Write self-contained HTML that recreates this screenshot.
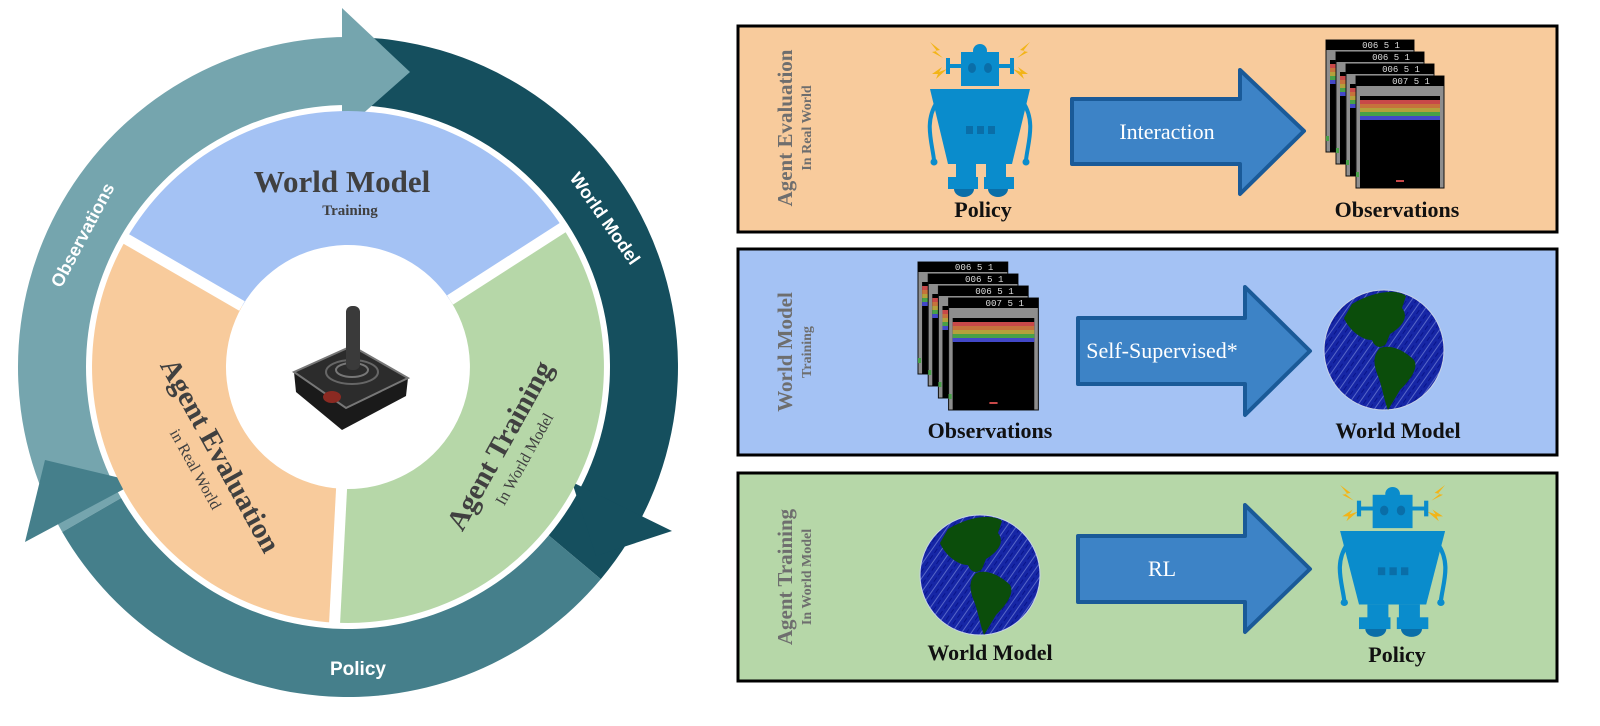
<!DOCTYPE html>
<html><head><meta charset="utf-8"><style>
html,body{margin:0;padding:0;background:#fff;}
svg{display:block;}
.serif{font-family:"Liberation Serif",serif;}
.sans{font-family:"Liberation Sans",sans-serif;}
</style></head><body>
<svg width="1600" height="726" viewBox="0 0 1600 726" xmlns="http://www.w3.org/2000/svg">
<defs>
<pattern id="scrib" width="8" height="8" patternUnits="userSpaceOnUse" patternTransform="rotate(-55)">
<rect width="8" height="8" fill="#1626a6"/>
<line x1="0" y1="2" x2="8" y2="2" stroke="#8a98e0" stroke-width="0.8" opacity="0.7"/>
<line x1="0" y1="6" x2="5" y2="6" stroke="#0a158a" stroke-width="1"/>
</pattern>
<g id="robot">
<path d="M2,0 l10,8 -5,1 8,7 -11,-6 5,-1z M102,0 l-10,8 5,1 -8,7 11,-6 -5,-1z M4,32 l10,-7 -3,5 8,-3 -11,10 2,-5z M100,32 l-10,-7 3,5 -8,-3 11,10 -2,-5z" fill="#f2b418"/>
<circle cx="52" cy="9" r="7" fill="#0a8ccc"/>
<rect x="33" y="10" width="38" height="34" fill="#0a8ccc"/>
<rect x="20" y="22" width="14" height="4" fill="#0a8ccc"/><rect x="18" y="16" width="4" height="16" fill="#0a8ccc"/>
<rect x="70" y="22" width="14" height="4" fill="#0a8ccc"/><rect x="82" y="16" width="4" height="16" fill="#0a8ccc"/>
<ellipse cx="44" cy="26" rx="4" ry="5" fill="#0a6ea8"/><ellipse cx="60" cy="26" rx="4" ry="5" fill="#0a6ea8"/>
<path d="M2,47 L102,47 L84,122 L20,122 Z" fill="#0a8ccc"/>
<path d="M9,60 C-4,80 4,100 6,118 M95,60 C108,80 100,100 98,118" stroke="#0a8ccc" stroke-width="4" fill="none"/>
<circle cx="6" cy="120" r="3.5" fill="#0a8ccc"/><circle cx="98" cy="120" r="3.5" fill="#0a8ccc"/>
<rect x="38" y="84" width="7" height="8" fill="#0a6ea8"/><rect x="49" y="84" width="7" height="8" fill="#0a6ea8"/><rect x="60" y="84" width="7" height="8" fill="#0a6ea8"/>
<rect x="28" y="122" width="20" height="22" fill="#0a8ccc"/><rect x="58" y="122" width="20" height="22" fill="#0a8ccc"/>
<rect x="20" y="135" width="30" height="12" fill="#0a8ccc"/><rect x="56" y="135" width="30" height="12" fill="#0a8ccc"/>
<path d="M26,147 h20 a10,8 0 0 1 -20,0z M60,147 h20 a10,8 0 0 1 -20,0z" fill="#0a6ea8"/>
</g>
<g id="frame">
<rect x="0" y="0" width="88" height="112" fill="#8e8e8e" stroke="#111" stroke-width="1"/>
<rect x="0" y="0" width="88" height="10" fill="#000"/>
<rect x="4" y="20" width="80" height="92" fill="#000"/>
<rect x="4" y="24" width="80" height="4" fill="#c84848"/>
<rect x="4" y="28" width="80" height="4" fill="#c6723c"/>
<rect x="4" y="32" width="80" height="4" fill="#b4a03c"/>
<rect x="4" y="36" width="80" height="4" fill="#48a048"/>
<rect x="4" y="40" width="80" height="4" fill="#4248c8"/>
<rect x="40" y="104" width="8" height="2" fill="#c84848"/>
<rect x="0" y="96" width="3" height="5" fill="#48a048"/>
</g>
<g id="stack">
<use href="#frame" x="0" y="0"/><text x="55" y="8" font-size="9" fill="#ddd" font-family="Liberation Mono,monospace" text-anchor="middle">006 5 1</text>
<use href="#frame" x="10" y="12"/><text x="65" y="20" font-size="9" fill="#ddd" font-family="Liberation Mono,monospace" text-anchor="middle">006 5 1</text>
<use href="#frame" x="20" y="24"/><text x="75" y="32" font-size="9" fill="#ddd" font-family="Liberation Mono,monospace" text-anchor="middle">006 5 1</text>
<use href="#frame" x="30" y="36"/><text x="85" y="44" font-size="9" fill="#ddd" font-family="Liberation Mono,monospace" text-anchor="middle">007 5 1</text>
</g>
<g id="globe">
<circle cx="0" cy="0" r="60" fill="url(#scrib)" stroke="#c8d4e8" stroke-width="1"/>
<path d="M-32,-46 C-12,-58 12,-62 22,-54 L18,-42 C26,-32 16,-22 6,-16 L2,-6 C-4,0 -10,-4 -12,-10 C-24,-10 -36,-22 -40,-32 Z" fill="#0b4d0b"/>
<path d="M-4,-2 C6,-6 20,0 30,10 C35,18 26,30 16,40 L4,60 C0,50 -2,36 -6,26 C-10,16 -12,6 -4,-2 Z" fill="#0b4d0b"/>
</g>
</defs>

<!-- ring -->
<path d="M62.2,532 A330,330 0 0 1 348,37 L348,105 A262,262 0 0 0 121.1,498 Z" fill="#75a5ae"/>
<path d="M348,37 A330,330 0 0 1 600.8,579.1 L548.7,535.4 A262,262 0 0 0 348,105 Z" fill="#154f5e"/>
<path d="M600.8,579.1 A330,330 0 0 1 62.2,532 L121.1,498 A262,262 0 0 0 548.7,535.4 Z" fill="#457f8b"/>
<polygon points="342,8 342,132 410,72" fill="#75a5ae"/>
<polygon points="572,482 672,531 596,556" fill="#154f5e"/>
<polygon points="45,460 137,482 25,542" fill="#457f8b"/>

<!-- sectors -->
<path d="M126.3,239 A256,256 0 0 1 562.7,227.6 L450.3,300.6 A122,122 0 0 0 242.3,306 Z" fill="#a4c2f4"/>
<path d="M562.7,227.6 A256,256 0 0 1 334.6,622.6 L341.6,488.8 A122,122 0 0 0 450.3,300.6 Z" fill="#b6d7a8"/>
<path d="M334.6,622.6 A256,256 0 0 1 126.3,239 L242.3,306 A122,122 0 0 0 341.6,488.8 Z" fill="#f8cb9c"/>
<g stroke="#fff" stroke-width="11">
<line x1="242" y1="306" x2="124.6" y2="238"/>
<line x1="450" y1="300" x2="564.4" y2="226.5"/>
<line x1="341.6" y1="488" x2="334.5" y2="624.6"/>
</g>

<!-- joystick -->
<polygon points="294,372 352,346 408,378 406,396 342,430 296,392" fill="#1a1a1a"/>
<polygon points="294,372 352,346 408,378 346,408" fill="#2c2c2c" stroke="#777" stroke-width="2"/>
<ellipse cx="352" cy="372" rx="26" ry="12" fill="none" stroke="#666" stroke-width="2"/>
<ellipse cx="352" cy="370" rx="16" ry="7" fill="none" stroke="#777" stroke-width="2"/>
<rect x="346" y="306" width="14" height="64" rx="6" fill="#3a3a3a"/>
<ellipse cx="332" cy="397" rx="9" ry="6" fill="#8b2a22"/>

<!-- sector text -->
<text x="342" y="192" class="serif" font-size="31" font-weight="bold" fill="#404040" text-anchor="middle">World Model</text>
<text x="350" y="215" class="serif" font-size="15" font-weight="bold" fill="#404040" text-anchor="middle">Training</text>
<g transform="translate(212,460) rotate(61)"><text x="0" y="0" class="serif" font-size="29" font-weight="bold" fill="#404040" text-anchor="middle">Agent Evaluation</text>
<text x="0" y="24" class="serif" font-size="16" fill="#404040" text-anchor="middle">in Real World</text></g>
<g transform="translate(508,450) rotate(-61)"><text x="0" y="0" class="serif" font-size="29" font-weight="bold" fill="#404040" text-anchor="middle">Agent Training</text>
<text x="0" y="24" class="serif" font-size="16" fill="#404040" text-anchor="middle">In World Model</text></g>

<!-- ring labels -->
<text transform="translate(88,238) rotate(-62)" class="sans" font-size="18" font-weight="bold" fill="#fff" text-anchor="middle">Observations</text>
<text transform="translate(600,222) rotate(55)" class="sans" font-size="18" font-weight="bold" fill="#fff" text-anchor="middle">World Model</text>
<text x="358" y="675" class="sans" font-size="19" font-weight="bold" fill="#fff" text-anchor="middle">Policy</text>

<!-- panels -->
<rect x="738" y="26" width="819" height="206" fill="#f8cb9c" stroke="#000" stroke-width="3"/>
<rect x="738" y="249" width="819" height="206" fill="#a4c2f4" stroke="#000" stroke-width="3"/>
<rect x="738" y="473" width="819" height="208" fill="#b6d7a8" stroke="#000" stroke-width="3"/>

<g class="serif" font-weight="bold" fill="#6e6e6e" text-anchor="middle">
<text transform="translate(792,128) rotate(-90)" font-size="21">Agent Evaluation</text>
<text transform="translate(811,128) rotate(-90)" font-size="14">In Real World</text>
<text transform="translate(792,352) rotate(-90)" font-size="21">World Model</text>
<text transform="translate(811,352) rotate(-90)" font-size="14">Training</text>
<text transform="translate(792,577) rotate(-90)" font-size="21">Agent Training</text>
<text transform="translate(811,577) rotate(-90)" font-size="14">In World Model</text>
</g>

<!-- arrows -->
<g fill="#3d83c6" stroke="#1a5a98" stroke-width="4" stroke-linejoin="round">
<polygon points="1072,99 1240,99 1240,70 1304,131 1240,194 1240,164 1072,164"/>
<polygon points="1078,318 1245,318 1245,287 1310,351 1245,415 1245,384 1078,384"/>
<polygon points="1078,536 1245,536 1245,505 1310,569 1245,632 1245,602 1078,602"/>
</g>
<g class="serif" fill="#fff" text-anchor="middle" font-size="22">
<text x="1167" y="139">Interaction</text>
<text x="1162" y="358">Self-Supervised*</text>
<text x="1162" y="576">RL</text>
</g>

<use href="#robot" transform="translate(928,42)"/>
<use href="#robot" transform="translate(1338,485) scale(1.05,0.98)"/>
<use href="#stack" transform="translate(1326,40)"/>
<use href="#stack" transform="translate(918,262) scale(1.02,1.0)"/>
<use href="#globe" transform="translate(1384,350)"/>
<use href="#globe" transform="translate(980,575)"/>

<g class="serif" font-weight="bold" fill="#111" text-anchor="middle" font-size="22">
<text x="983" y="217">Policy</text>
<text x="1397" y="217">Observations</text>
<text x="990" y="438">Observations</text>
<text x="1398" y="438">World Model</text>
<text x="990" y="660">World Model</text>
<text x="1397" y="662">Policy</text>
</g>
</svg>
</body></html>
